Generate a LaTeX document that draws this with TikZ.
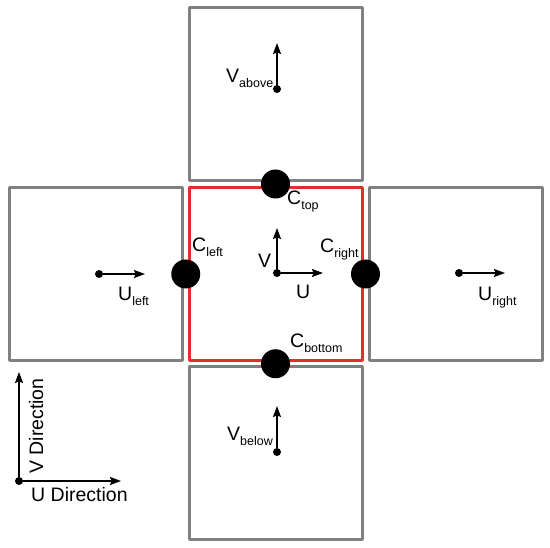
\documentclass[tikz,border=0pt]{standalone}
\usepackage{fontspec}
\setmainfont{Liberation Sans}
\usepackage{xcolor}
\usetikzlibrary{arrows.meta,calc}
\definecolor{cellgray}{RGB}{128,128,128}
\definecolor{cellred}{RGB}{230,45,45}
\tikzset{
  every picture/.style={line join=round, >={Stealth[length=11pt,width=8pt,inset=1.5pt]}},
  cell/.style={draw=cellgray, line width=3pt, minimum size=173pt, inner sep=0pt},
  edgept/.style={circle, fill=black, minimum size=29pt, inner sep=0pt},
  dotpt/.style={circle, fill=black, minimum size=8pt, inner sep=0pt},
  vec/.style={->, line width=1.2pt},
  lbl/.style={font=\fontsize{19.5}{19.5}\selectfont, inner sep=0pt, anchor=base west},
}
\newcommand\subtxt[1]{\raisebox{-5pt}{\fontsize{12.5}{12.5}\selectfont #1}}

\begin{document}
\begin{tikzpicture}[x=1pt,y=-1pt]
\useasboundingbox (0,0) rectangle (550,548);
% cells
\node[cell] (above) at (275.5,94) {};
\node[cell] (left) at (96,274) {};
\node[cell] (right) at (455.5,274) {};
\node[cell] (below) at (275.5,453.5) {};
\node[cell, draw=cellred] (mid) at (275.5,274) {};
% edge points
\node[edgept] (ctop) at ($(mid.north)!0.5!(above.south)$) {};
\node[edgept] (cleft) at ($(mid.west)!0.5!(left.east)$) {};
\node[edgept] (cright) at ($(mid.east)!0.5!(right.west)$) {};
\node[edgept] (cbottom) at ($(mid.south)!0.5!(below.north)$) {};
% vectors
\node[dotpt] (pmid) at (277,273) {};
\coordinate (umid) at (323,273);
\coordinate (vmid) at (277,228);
\node[dotpt] (pabove) at (277,89) {};
\coordinate (vabove) at (277,43);
\node[dotpt] (pbelow) at (277,452) {};
\coordinate (vbelow) at (277,406);
\node[dotpt] (pleft) at (99,274) {};
\coordinate (uleft) at (145,274);
\node[dotpt] (pright) at (459,273) {};
\coordinate (uright) at (505,273);
\draw[vec] (pmid) -- (umid);
\draw[vec] (pmid) -- (vmid);
\draw[vec] (pabove) -- (vabove);
\draw[vec] (pbelow) -- (vbelow);
\draw[vec] (pleft) -- (uleft);
\draw[vec] (pright) -- (uright);
% labels
\node[lbl] (lctop) at (287,205) {C\subtxt{top}};
\node[lbl] (lcleft) at (192,252) {C\subtxt{left}};
\node[lbl] (lcright) at (320,253) {C\subtxt{right}};
\node[lbl] (lcbottom) at (290,348) {C\subtxt{bottom}};
\node[lbl] (lv) at (258,268) {V};
\node[lbl] (lu) at (296,299) {U};
\node[lbl] (lvabove) at (226,83) {V\subtxt{above}};
\node[lbl] (lvbelow) at (227,441) {V\subtxt{below}};
\node[lbl] (luleft) at (118,301) {U\subtxt{left}};
\node[lbl] (luright) at (478,301) {U\subtxt{right}};
% directions
\node[dotpt] (origin) at (19,481) {};
\coordinate (udir) at (121,481);
\coordinate (vdir) at (19,372);
\draw[vec] (origin) -- (udir);
\draw[vec] (origin) -- (vdir);
\node[lbl, rotate=90] (lvdir) at (43,474) {V Direction};
\node[lbl] (ludir) at (31,502) {U Direction};
\end{tikzpicture}
\end{document}
